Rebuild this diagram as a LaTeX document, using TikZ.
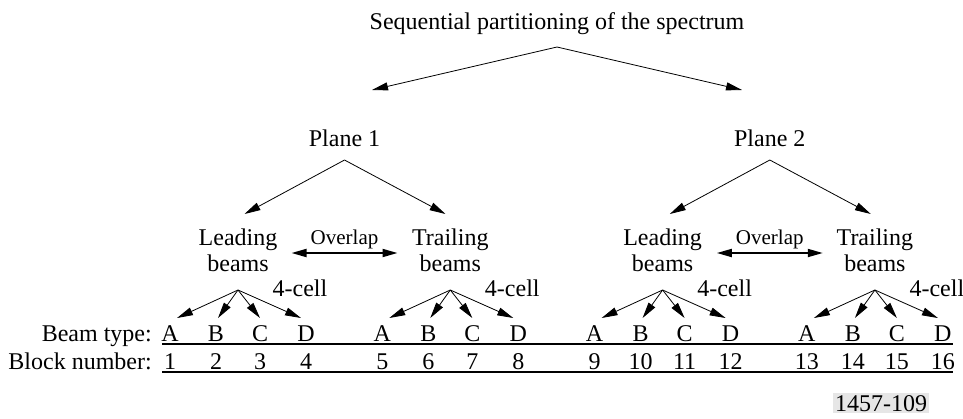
\documentclass[tikz,border=0pt]{standalone}
\usepackage{fontspec}
\setmainfont{Liberation Serif}
\usetikzlibrary{arrows.meta}
\definecolor{tagbg}{HTML}{E6E6E6}
\begin{document}
\begin{tikzpicture}[x=1pt,y=-1pt,
  lbl/.style={font=\fontsize{24}{26}\selectfont, inner sep=0pt, anchor=base, align=center},
  small/.style={font=\fontsize{21}{24}\selectfont, inner sep=0pt, anchor=base},
  arr/.style={-{Triangle[length=16pt,width=8pt]}, line width=0.8pt},
  dbl/.style={{Triangle[length=15pt,width=8pt]}-{Triangle[length=15pt,width=8pt]}, line width=1.8pt},
  rule/.style={line width=2pt},
]
\useasboundingbox (0,0) rectangle (963,418);

% top level
\node[lbl] (title) at (557,29) {Sequential partitioning of the spectrum};
\coordinate (top) at (557,47);
\coordinate (t1) at (372,90);
\coordinate (t2) at (742,90);
\draw[arr] (top) -- (t1);
\draw[arr] (top) -- (t2);

% planes
\foreach \p/\cx in {1/344.5, 2/769.8}{
  \node[lbl] (pl\p) at (\cx,146) {Plane \p};
  \coordinate (pa\p) at (\cx,160);
  \coordinate (pl\p L) at (\cx-100,214);
  \coordinate (pl\p R) at (\cx+101,214);
  \draw[arr] (pa\p) -- (pl\p L);
  \draw[arr] (pa\p) -- (pl\p R);
  \node[small] (ov\p) at (\cx,244) {Overlap};
  \coordinate (ov\p L) at (\cx-53,253);
  \coordinate (ov\p R) at (\cx+53,253);
  \draw[dbl] (ov\p L) -- (ov\p R);
}

% beam groups
\foreach \k/\name in {0/Leading, 1/Trailing, 2/Leading, 3/Trailing}{
  \pgfmathsetmacro{\g}{170+212.3*\k}
  \node[lbl] (grp\k) at (\g+68,271) {\name\\beams};
  \node[lbl] (cell\k) at (\g+130,296) {4-cell};
  \coordinate (ap\k) at (\g+68,290);
  \coordinate (ta\k) at (\g+7,318);
  \coordinate (tb\k) at (\g+48,318);
  \coordinate (tc\k) at (\g+90,318);
  \coordinate (td\k) at (\g+131,318);
  \draw[arr] (ap\k) -- (ta\k);
  \draw[arr] (ap\k) -- (tb\k);
  \draw[arr] (ap\k) -- (tc\k);
  \draw[arr] (ap\k) -- (td\k);
  \node[lbl] (la\k) at (\g,341) {A};
  \node[lbl] (lb\k) at (\g+46,341) {B};
  \node[lbl] (lc\k) at (\g+90,341) {C};
  \node[lbl] (ld\k) at (\g+136,341) {D};
  \pgfmathtruncatemacro{\na}{4*\k+1}
  \pgfmathtruncatemacro{\nb}{4*\k+2}
  \pgfmathtruncatemacro{\nc}{4*\k+3}
  \pgfmathtruncatemacro{\nd}{4*\k+4}
  \node[lbl] (na\k) at (\g,369) {\na};
  \node[lbl] (nb\k) at (\g+46,369) {\nb};
  \node[lbl] (nc\k) at (\g+90,369) {\nc};
  \node[lbl] (nd\k) at (\g+136,369) {\nd};
}

% row labels and rules
\node[lbl, anchor=base east] (bt) at (152,341) {Beam type:};
\node[lbl, anchor=base east] (bn) at (152,369) {Block number:};
\coordinate (r1a) at (162,344); \coordinate (r1b) at (953,344);
\coordinate (r2a) at (162,372); \coordinate (r2b) at (953,372);
\draw[rule] (r1a) -- (r1b);
\draw[rule] (r2a) -- (r2b);

% figure tag
\node[lbl, fill=tagbg, inner sep=2pt] (tag) at (881,411) {1457-109};
\end{tikzpicture}
\end{document}
